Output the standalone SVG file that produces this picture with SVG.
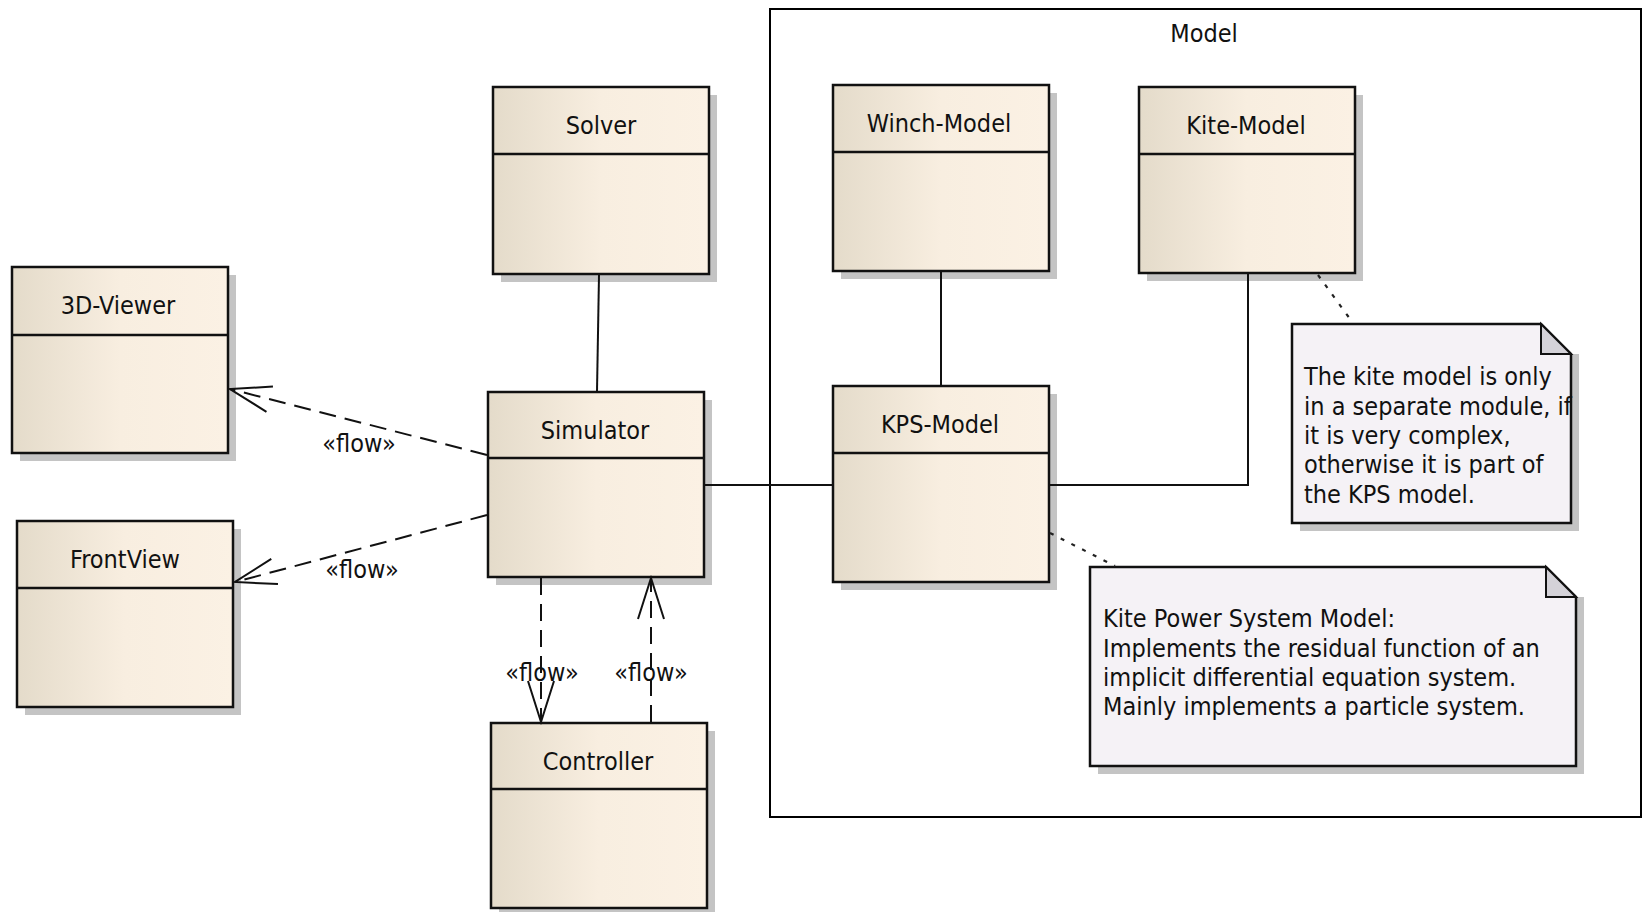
<svg xmlns="http://www.w3.org/2000/svg" width="1644" height="912" viewBox="0 0 1644 912">
<style>
.bg{fill:#ffffff}
.frame{fill:none;stroke:#000;stroke-width:2}
.shadow{fill:#c4c4c4}
.box{fill:url(#cls);stroke:#111;stroke-width:2.5}
.div{stroke:#111;stroke-width:2.5}
.note{fill:#f5f2f6;stroke:#111;stroke-width:2.5;stroke-linejoin:miter}
.fold{fill:#d4d2d8;stroke:#111;stroke-width:2}
text{font-family:"DejaVu Sans Condensed","DejaVu Sans",sans-serif;font-size:25px;fill:#111}
.lbl{text-anchor:middle}
.solid{fill:none;stroke:#111;stroke-width:2}
.flow{fill:none;stroke:#111;stroke-width:2;stroke-dasharray:17 9}
.dot{fill:none;stroke:#222;stroke-width:2.2;stroke-dasharray:4 8}
</style>
<defs>
<linearGradient id="cls" x1="0" y1="0" x2="1" y2="0">
<stop offset="0" stop-color="#e4dbca"/>
<stop offset="0.5" stop-color="#f8eee0"/>
<stop offset="1" stop-color="#fbf1e4"/>
</linearGradient>
<marker id="open" markerUnits="userSpaceOnUse" orient="auto" overflow="visible" refX="0" refY="0" markerWidth="1" markerHeight="1">
<path d="M-41,-13 L0,0 L-41,13" fill="none" stroke="#111" stroke-width="2" stroke-dasharray="none"/>
</marker>
</defs>
<rect class="bg" x="0" y="0" width="1644" height="912"/>

<g id="model-package">
<rect class="frame" x="770" y="9" width="871" height="808"/>
<text class="lbl" x="1204" y="42">Model</text>
</g>

<g id="solver">
<rect class="shadow" x="501" y="95" width="216" height="187"/>
<rect class="box" x="493" y="87" width="216" height="187"/>
<line class="div" x1="493" y1="154" x2="709" y2="154"/>
<text class="lbl" x="601" y="134">Solver</text>
</g>

<g id="viewer3d">
<rect class="shadow" x="20" y="275" width="216" height="186"/>
<rect class="box" x="12" y="267" width="216" height="186"/>
<line class="div" x1="12" y1="335" x2="228" y2="335"/>
<text class="lbl" x="118" y="314">3D-Viewer</text>
</g>

<g id="frontview">
<rect class="shadow" x="25" y="529" width="216" height="186"/>
<rect class="box" x="17" y="521" width="216" height="186"/>
<line class="div" x1="17" y1="588" x2="233" y2="588"/>
<text class="lbl" x="125" y="568">FrontView</text>
</g>

<g id="simulator">
<rect class="shadow" x="496" y="400" width="216" height="185"/>
<rect class="box" x="488" y="392" width="216" height="185"/>
<line class="div" x1="488" y1="458" x2="704" y2="458"/>
<text class="lbl" x="595" y="439">Simulator</text>
</g>

<g id="controller">
<rect class="shadow" x="499" y="731" width="216" height="185"/>
<rect class="box" x="491" y="723" width="216" height="185"/>
<line class="div" x1="491" y1="789" x2="707" y2="789"/>
<text class="lbl" x="598" y="770">Controller</text>
</g>

<g id="winch-model">
<rect class="shadow" x="841" y="93" width="216" height="186"/>
<rect class="box" x="833" y="85" width="216" height="186"/>
<line class="div" x1="833" y1="152" x2="1049" y2="152"/>
<text class="lbl" x="939" y="132">Winch-Model</text>
</g>

<g id="kite-model">
<rect class="shadow" x="1147" y="95" width="216" height="186"/>
<rect class="box" x="1139" y="87" width="216" height="186"/>
<line class="div" x1="1139" y1="154" x2="1355" y2="154"/>
<text class="lbl" x="1246" y="134">Kite-Model</text>
</g>

<g id="kps-model">
<rect class="shadow" x="841" y="394" width="216" height="196"/>
<rect class="box" x="833" y="386" width="216" height="196"/>
<line class="div" x1="833" y1="453" x2="1049" y2="453"/>
<text class="lbl" x="940" y="433">KPS-Model</text>
</g>

<g id="note-kite">
<rect class="shadow" x="1300" y="354" width="279" height="177"/>
<path class="note" d="M1292,324 H1541 L1571,354 V523 H1292 Z"/>
<path class="fold" d="M1541,324 V354 H1571 Z"/>
<text x="1304" y="385">The kite model is only</text>
<text x="1304" y="415">in a separate module, if</text>
<text x="1304" y="444">it is very complex,</text>
<text x="1304" y="473">otherwise it is part of</text>
<text x="1304" y="503">the KPS model.</text>
</g>

<g id="note-kps">
<rect class="shadow" x="1098" y="597" width="486" height="177"/>
<path class="note" d="M1090,567 H1546 L1576,597 V766 H1090 Z"/>
<path class="fold" d="M1546,567 V597 H1576 Z"/>
<text x="1103" y="627">Kite Power System Model:</text>
<text x="1103" y="657">Implements the residual function of an</text>
<text x="1103" y="686">implicit differential equation system.</text>
<text x="1103" y="715">Mainly implements a particle system.</text>
</g>

<g id="connectors">
<line class="solid" x1="599" y1="275" x2="597" y2="391"/>
<line class="solid" x1="941" y1="272" x2="941" y2="385"/>
<line class="solid" x1="705" y1="485" x2="832" y2="485"/>
<polyline class="solid" points="1248,274 1248,485 1050,485"/>
<line class="dot" x1="1318" y1="275" x2="1353" y2="323"/>
<line class="dot" x1="1050" y1="533" x2="1115" y2="566"/>
<line class="flow" x1="487" y1="455" x2="230" y2="389" marker-end="url(#open)"/>
<line class="flow" x1="487" y1="515" x2="235" y2="582" marker-end="url(#open)"/>
<line class="flow" x1="541" y1="578" x2="541" y2="722" marker-end="url(#open)"/>
<line class="flow" x1="651" y1="722" x2="651" y2="578" marker-end="url(#open)"/>
<text class="lbl" x="359" y="452">«flow»</text>
<text class="lbl" x="362" y="578">«flow»</text>
<text class="lbl" x="542" y="681">«flow»</text>
<text class="lbl" x="651" y="681">«flow»</text>
</g>
</svg>
